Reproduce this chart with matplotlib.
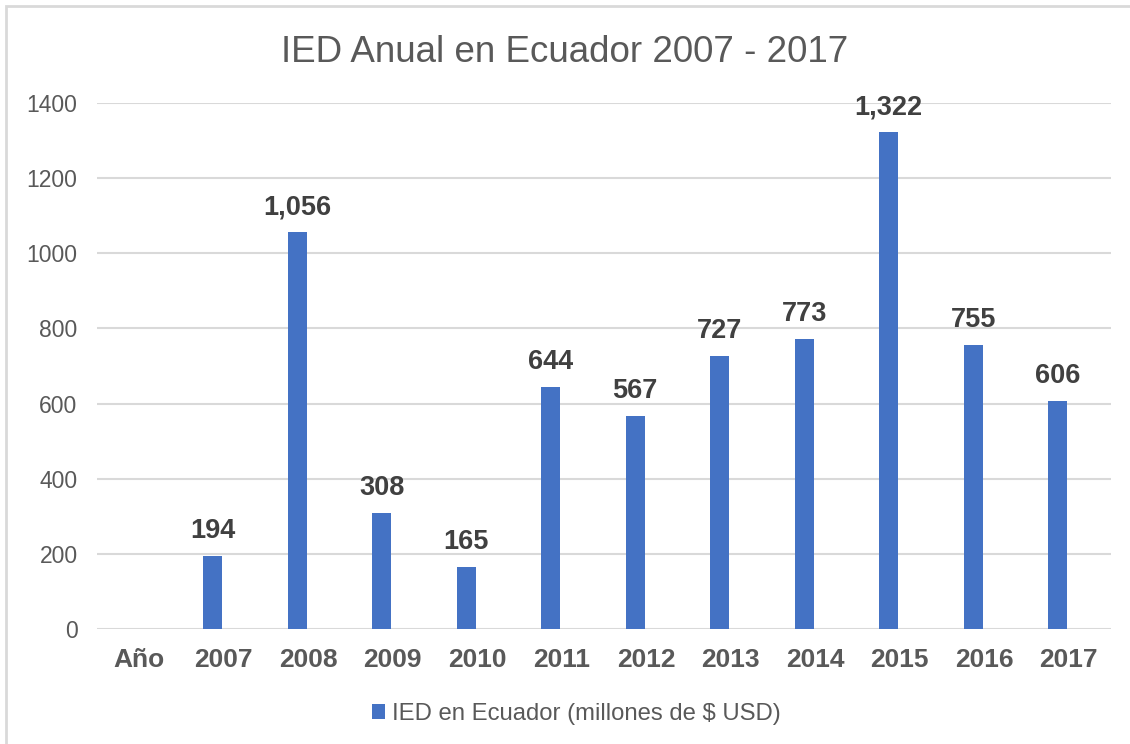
import matplotlib.pyplot as plt
from matplotlib.patches import Rectangle

plt.rcParams['font.family'] = ['Liberation Sans', 'DejaVu Sans']

categorias = ["Año", "2007", "2008", "2009", "2010", "2011", "2012",
              "2013", "2014", "2015", "2016", "2017"]
ied = [None, 194, 1056, 308, 165, 644, 567, 727, 773, 1322, 755, 606]
etiquetas = ["", "194", "1,056", "308", "165", "644", "567",
             "727", "773", "1,322", "755", "606"]
ticks_y = [0, 200, 400, 600, 800, 1000, 1200, 1400]

azul = "#4472C4"
gris_texto = "#595959"
gris_linea = "#D9D9D9"

fig = plt.figure(figsize=(11.3, 7.44), dpi=100)
ax = fig.add_axes([97 / 1130, 1 - 629 / 744, 1014 / 1130, 526 / 744])

x = list(range(len(categorias)))
alturas = [v if v is not None else 0 for v in ied]
# las barras van algo desplazadas a la izquierda (serie agrupada de Excel)
desplazamiento = -0.13
xb = [xi + desplazamiento for xi in x]
barras = ax.bar(xb, alturas, width=0.225, color=azul, zorder=3,
                label="IED en Ecuador (millones de $ USD)")

# etiquetas de datos
for xi, v, t in zip(xb, alturas, etiquetas):
    if t:
        ax.annotate(t, (xi, v), xytext=(0, 13), textcoords="offset points",
                    ha="center", va="baseline", fontsize=19.5,
                    fontweight="bold", color="#404040", zorder=4)

ax.set_xlim(-0.5, len(categorias) - 0.5)
ax.set_ylim(0, 1400)
ax.set_yticks(ticks_y)
ax.set_yticklabels([str(t) for t in ticks_y], fontsize=16.5, color=gris_texto)
ax.set_xticks(x)
ax.set_xticklabels(categorias, fontsize=19, fontweight="bold", color=gris_texto)
ax.tick_params(axis="both", length=0)
ax.tick_params(axis="y", pad=14)
ax.tick_params(axis="x", pad=14)
ax.grid(axis="y", color=gris_linea, linewidth=1.5, zorder=0)
for s in ax.spines.values():
    s.set_visible(False)

fig.text(0.5, 1 - 62 / 744, "IED Anual en Ecuador 2007 - 2017",
         ha="center", va="baseline", fontsize=26.5, color=gris_texto)

fig.legend(handles=[barras], loc="center", bbox_to_anchor=(0.51, 1 - 714 / 744),
           frameon=False, fontsize=17.2, labelcolor=gris_texto,
           handlelength=0.55, handleheight=0.55, handletextpad=0.3)

# borde del gráfico
fig.patches.append(Rectangle((6 / 1130, -0.1), 1.2, 1 - 6 / 744 + 0.1,
                             transform=fig.transFigure, fill=False,
                             edgecolor=gris_linea, linewidth=2))

fig.savefig("out.png", dpi=100)
